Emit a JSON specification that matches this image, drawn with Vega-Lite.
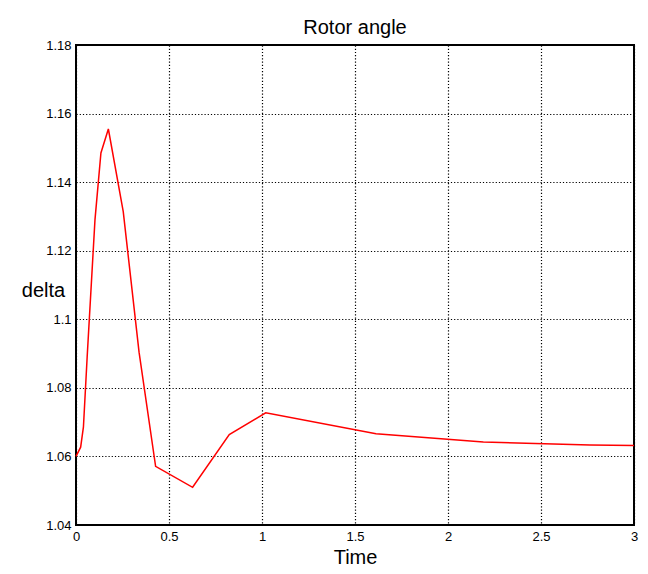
{
  "$schema": "https://vega.github.io/schema/vega-lite/v6.json",
  "width": 558,
  "height": 480,
  "autosize": {"type": "none"},
  "padding": {"left": 76, "top": 45, "right": 14, "bottom": 49},
  "background": "white",
  "title": {"text": "Rotor angle", "fontSize": 20, "font": "Liberation Sans", "fontWeight": "normal", "color": "#000000", "offset": 1},
  "data": {
    "values": [
      {"t": 0, "d": 1.06},
      {"t": 0.025, "d": 1.0627},
      {"t": 0.04, "d": 1.0686},
      {"t": 0.06, "d": 1.089},
      {"t": 0.102, "d": 1.129},
      {"t": 0.134, "d": 1.1485},
      {"t": 0.174, "d": 1.1555},
      {"t": 0.254, "d": 1.1314},
      {"t": 0.339, "d": 1.0904},
      {"t": 0.428, "d": 1.0571},
      {"t": 0.627, "d": 1.051},
      {"t": 0.824, "d": 1.0664},
      {"t": 1.02, "d": 1.0727},
      {"t": 1.613, "d": 1.0666},
      {"t": 2.19, "d": 1.0642},
      {"t": 2.763, "d": 1.0633},
      {"t": 3.0, "d": 1.0632}
    ]
  },
  "mark": {"type": "line", "color": "#ff0000", "strokeWidth": 1.5, "interpolate": "linear"},
  "encoding": {
    "x": {
      "field": "t", "type": "quantitative", "title": "Time",
      "scale": {"domain": [0, 3], "nice": false, "zero": false},
      "axis": {"values": [0, 0.5, 1, 1.5, 2, 2.5, 3], "format": "~g", "labelFlush": false, "titleY": 32, "titleBaseline": "middle"}
    },
    "y": {
      "field": "d", "type": "quantitative", "title": "delta",
      "scale": {"domain": [1.04, 1.18], "nice": false, "zero": false},
      "axis": {"values": [1.04, 1.06, 1.08, 1.1, 1.12, 1.14, 1.16, 1.18], "format": "~g", "labelFlush": false, "titleAngle": 0, "titleAlign": "center", "titleBaseline": "middle", "titleX": -33, "titleY": 245}
    }
  },
  "config": {
    "view": {"stroke": "#000000", "strokeWidth": 2},
    "axis": {
      "domain": false,
      "ticks": false,
      "grid": true,
      "gridColor": "#000000",
      "gridOpacity": 1,
      "gridWidth": 1.2,
      "gridDash": [1.2, 2],
      "labelFont": "Liberation Sans",
      "labelFontSize": 13,
      "labelColor": "#000000",
      "labelPadding": 5,
      "titleFont": "Liberation Sans",
      "titleFontSize": 20,
      "titleFontWeight": "normal",
      "titleColor": "#000000"
    }
  }
}
